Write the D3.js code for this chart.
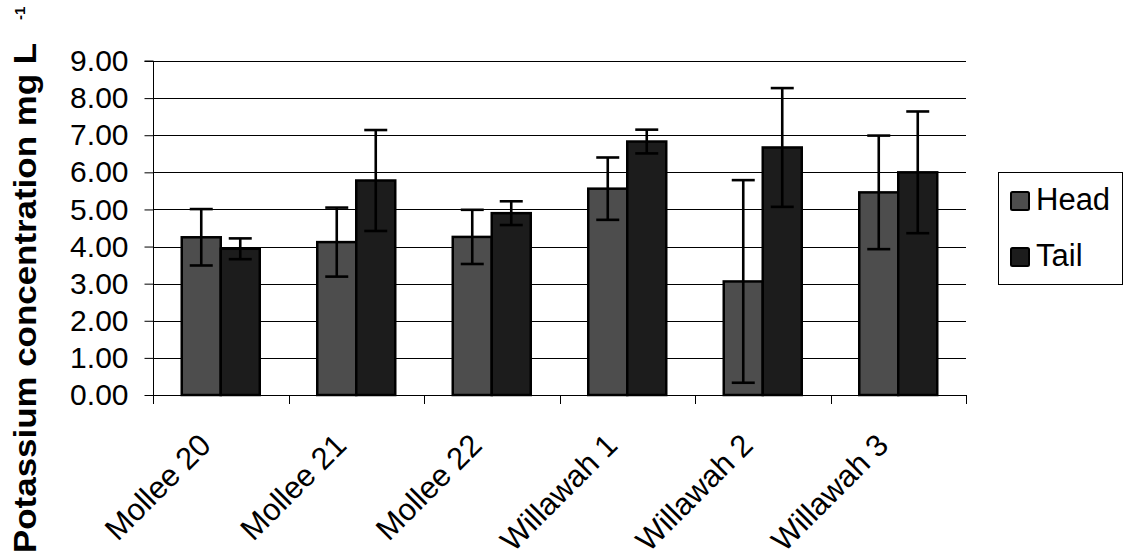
<!DOCTYPE html>
<html>
<head>
<meta charset="utf-8">
<script src="https://cdn.jsdelivr.net/npm/d3@7/dist/d3.min.js"></script>
<style>
  html, body { margin: 0; padding: 0; background: #fff; }
  svg { display: block; }
  text { font-family: Arial, "Liberation Sans", sans-serif; fill: #000; }
</style>
</head>
<body>
<svg id="chart" width="1133" height="558"></svg>
<script>
// Sites and the two sampling positions
const sites = ["Mollee 20", "Mollee 21", "Mollee 22", "Willawah 1", "Willawah 2", "Willawah 3"];
const seriesNames = ["Head", "Tail"];

// Mean potassium concentration (mg/L)
const headValues = [4.25, 4.12, 4.26, 5.56, 3.06, 5.46];
const tailValues = [3.94, 5.78, 4.90, 6.83, 6.67, 6.00];

// Error bar half-widths (mg/L)
const headErrors = [0.76, 0.93, 0.73, 0.84, 2.73, 1.53];
const tailErrors = [0.28, 1.36, 0.32, 0.32, 1.60, 1.64];

// Y axis ticks
const yTicks = [0, 1, 2, 3, 4, 5, 6, 7, 8, 9];

const seriesColors = { Head: "#4d4d4d", Tail: "#1c1c1c" };

const svg = d3.select("#chart");
const plot = { left: 153, right: 966, top: 61, bottom: 395 };

const x = d3.scaleBand()
  .domain(sites)
  .range([plot.left, plot.right])
  .paddingInner(0.4244)
  .paddingOuter(0.2122);

const xSeries = d3.scaleBand()
  .domain(seriesNames)
  .range([0, x.bandwidth()]);

const y = d3.scaleLinear()
  .domain([0, 9])
  .range([plot.bottom, plot.top]);

// Horizontal gridlines
svg.append("g")
  .selectAll("line")
  .data(yTicks.filter(d => d > 0))
  .join("line")
  .attr("x1", plot.left)
  .attr("x2", plot.right)
  .attr("y1", d => Math.round(y(d)) + 0.5)
  .attr("y2", d => Math.round(y(d)) + 0.5)
  .attr("stroke", "#000")
  .attr("stroke-width", 1);

// Y axis
const yAxis = d3.axisLeft(y)
  .tickValues(yTicks)
  .tickFormat(d3.format(".2f"))
  .tickSize(9)
  .tickPadding(16);

const yg = svg.append("g")
  .attr("transform", `translate(${plot.left + 0.5},0)`)
  .call(yAxis);
yg.select(".domain").attr("stroke", "#000").attr("d", `M-9,${y(9)}H0V${plot.bottom}`);
yg.selectAll(".tick line").attr("stroke", "#000");
yg.selectAll(".tick text")
  .style("font-size", "30px")
  .style("font-family", "Arial, 'Liberation Sans', sans-serif")
  .attr("fill", "#000");

// X axis line with boundary ticks between sites
const xg = svg.append("g");
xg.append("line")
  .attr("x1", plot.left)
  .attr("x2", plot.right)
  .attr("y1", plot.bottom + 0.5)
  .attr("y2", plot.bottom + 0.5)
  .attr("stroke", "#000");
const boundaries = sites.map(s => x(s) - (x.step() - x.bandwidth()) / 2).concat([plot.right]);
xg.selectAll("line.tick")
  .data(boundaries)
  .join("line")
  .attr("class", "tick")
  .attr("x1", d => Math.round(d) + 0.5)
  .attr("x2", d => Math.round(d) + 0.5)
  .attr("y1", plot.bottom)
  .attr("y2", plot.bottom + 9)
  .attr("stroke", "#000");

// Rotated category labels
xg.selectAll("text.cat")
  .data(sites)
  .join("text")
  .attr("class", "cat")
  .attr("text-anchor", "end")
  .attr("transform", d => `translate(${x(d) + x.bandwidth() / 2 - 8},${plot.bottom + 52}) rotate(-45)`)
  .style("font-size", "31px")
  .text(d => d);

// Bars
const rows = sites.map((s, i) => ({
  site: s,
  items: [
    { key: "Head", value: headValues[i], err: headErrors[i] },
    { key: "Tail", value: tailValues[i], err: tailErrors[i] }
  ]
}));

const groups = svg.append("g")
  .selectAll("g")
  .data(rows)
  .join("g")
  .attr("transform", d => `translate(${x(d.site)},0)`);

groups.selectAll("rect")
  .data(d => d.items)
  .join("rect")
  .attr("x", d => xSeries(d.key))
  .attr("y", d => y(d.value))
  .attr("width", xSeries.bandwidth())
  .attr("height", d => y(0) - y(d.value))
  .attr("fill", d => seriesColors[d.key])
  .attr("stroke", "#000")
  .attr("stroke-width", 2.5);

// Error bars
const capHalf = 11.5;
const eb = groups.selectAll("g.err")
  .data(d => d.items)
  .join("g")
  .attr("class", "err")
  .attr("transform", d => `translate(${xSeries(d.key) + xSeries.bandwidth() / 2},0)`)
  .attr("stroke", "#000")
  .attr("stroke-width", 2.6);
eb.append("line")
  .attr("y1", d => y(d.value + d.err))
  .attr("y2", d => y(d.value - d.err));
eb.append("line")
  .attr("x1", -capHalf).attr("x2", capHalf)
  .attr("y1", d => y(d.value + d.err))
  .attr("y2", d => y(d.value + d.err));
eb.append("line")
  .attr("x1", -capHalf).attr("x2", capHalf)
  .attr("y1", d => y(d.value - d.err))
  .attr("y2", d => y(d.value - d.err));

// Y axis title with superscript unit exponent
svg.append("text")
  .attr("transform", "translate(36,43) rotate(-90)")
  .attr("text-anchor", "end")
  .attr("textLength", 510)
  .attr("lengthAdjust", "spacingAndGlyphs")
  .style("font-size", "31px")
  .style("font-weight", "bold")
  .text("Potassium concentration mg L");
svg.append("text")
  .attr("transform", "translate(25,20) rotate(-90)")
  .attr("text-anchor", "start")
  .style("font-size", "15px")
  .style("font-weight", "bold")
  .text("-1");

// Legend
const legend = svg.append("g");
legend.append("rect")
  .attr("x", 998.5).attr("y", 172.5)
  .attr("width", 124).attr("height", 112)
  .attr("fill", "#fff")
  .attr("stroke", "#000")
  .attr("stroke-width", 1);
const legendRows = legend.selectAll("g.item")
  .data(seriesNames)
  .join("g")
  .attr("class", "item")
  .attr("transform", (d, i) => `translate(1011,${192 + i * 56})`);
legendRows.append("rect")
  .attr("width", 18).attr("height", 18)
  .attr("rx", 1.5)
  .attr("fill", d => seriesColors[d])
  .attr("stroke", "#000")
  .attr("stroke-width", 2);
legendRows.append("text")
  .attr("x", 25).attr("y", 18)
  .style("font-size", "31px")
  .text(d => d);
</script>
</body>
</html>
